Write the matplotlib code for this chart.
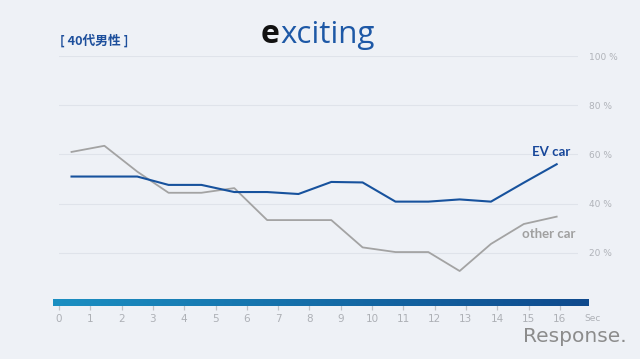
import matplotlib
matplotlib.use('Agg')
import numpy as np
import matplotlib.pyplot as plt
from matplotlib.colors import LinearSegmentedColormap

seconds = [0.4, 1.45, 2.5, 3.5, 4.55, 5.6, 6.65, 7.65, 8.7, 9.7, 10.75, 11.8, 12.8, 13.8, 14.85, 15.9]
ev_car = [51, 51, 51, 47.6, 47.6, 44.7, 44.7, 43.9, 48.8, 48.6, 40.8, 40.8, 41.7, 40.8, 48.5, 56]
other_car = [61, 63.5, 53, 44.4, 44.4, 46.3, 33.3, 33.3, 33.3, 22.2, 20.3, 20.3, 12.6, 23.6, 31.7, 34.7]
y_ticks = [20, 40, 60, 80, 100]
x_ticks = list(range(17))

bg = '#eef1f6'
W, H = 640, 359
fig = plt.figure(figsize=(6.4, 3.59), dpi=100, facecolor=bg)

# axes: x 0s at px 59, 31.3 px/sec; y 0% at px 302, 100% at px 56
x0, x1 = 59, 578
y0, y1 = 302, 56
ax = fig.add_axes([x0 / W, 1 - y0 / H, (x1 - x0) / W, (y0 - y1) / H])
ax.set_facecolor(bg)
ax.set_xlim(0, (x1 - x0) / 31.3)
ax.set_ylim(0, 100)
for s in ax.spines.values():
    s.set_visible(False)

for v in y_ticks:
    ax.axhline(v, color='#dfe3ea', lw=0.8, zorder=1)

ax.plot(seconds, other_car, color='#a3a3a3', lw=1.3, zorder=3)
ax.plot(seconds, ev_car, color='#17529d', lw=1.5, zorder=4)

ax.text(16.33, 61, 'EV car', color='#17479a', fontsize=9.5, fontweight='bold',
        family='Lato', ha='right', va='center')
ax.text(16.5, 27.5, 'other car', color='#a0a0a0', fontsize=9.5, fontweight='bold',
        family='Lato', ha='right', va='center')

ax.yaxis.tick_right()
ax.set_yticks(y_ticks)
ax.set_yticklabels([f'{v} %' for v in y_ticks])
ax.tick_params(axis='y', length=0, pad=8, labelsize=6.5, labelcolor='#b0b3b9')

# gradient time bar (covers upper part of the x ticks)
cmap = LinearSegmentedColormap.from_list('bar', ['#1b8fc2', '#0f4a8d'])
grad = np.linspace(0, 1, 256).reshape(1, -1)
ax.imshow(grad, cmap=cmap, aspect='auto', extent=[-0.19, 16.93, -1.6, 0.9],
          clip_on=False, zorder=5)

ax.set_xticks(x_ticks)
ax.set_xticklabels([str(v) for v in x_ticks])
ax.tick_params(axis='x', length=5.8, width=0.9, color='#c0c3c8', pad=3,
               labelsize=7.5, labelcolor='#adb0b6', direction='out')
ax.text(17.05, -6.9, 'Sec', color='#adb0b6', fontsize=6.5, ha='center', va='center',
        clip_on=False)

# title texts
fig.text(60 / W, 1 - 41 / H, '[ 40代男性 ]', color='#1d4f9c', fontsize=9.2,
         fontweight='bold', family=['Noto Sans CJK JP', 'DejaVu Sans'], va='center')
fig.text(261 / W, 1 - 43 / H, 'e', color='#111111', fontsize=23, family='Open Sans',
         fontweight='bold', va='baseline')
fig.text(280 / W, 1 - 43 / H, 'xciting', color='#1d58a6', fontsize=22.5, family='Open Sans',
         fontweight='medium', va='baseline')

fig.text(627 / W, 1 - 337 / H, 'Response.', color='#8c8c8c', fontsize=14.5,
         family='DejaVu Sans', ha='right', va='center')

fig.savefig('out.png', dpi=100, facecolor=bg)
